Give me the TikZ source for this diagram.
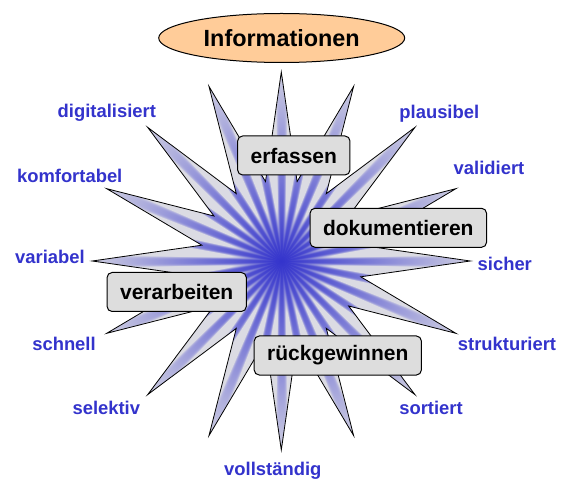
\documentclass[tikz,border=0pt]{standalone}
\usepackage{fontspec}
\setmainfont{Liberation Sans}
\usetikzlibrary{shapes.geometric}
\definecolor{lblue}{RGB}{51,51,204}
\definecolor{boxgray}{RGB}{221,221,221}
\definecolor{peach}{RGB}{255,204,153}
\pgfdeclarefunctionalshading{starshade}{\pgfpointorigin}{\pgfpoint{100bp}{100bp}}{}{
  50 sub exch 50 sub
  2 copy atan
  32 mul cos
  1 exch sub 2 div dup mul
  3 1 roll
  dup mul exch dup mul add sqrt 25 div
  dup 3 1 roll
  dup mul 14 mul mul 1 exch sub
  dup 0 lt {pop 0} if
  dup 1 gt {pop 1} if
  exch 0.92 mul 1 exch sub
  dup 0 lt {pop 0} if
  mul
  dup -0.66 mul 0.86 add exch dup -0.66 mul 0.86 add exch -0.09 mul 0.89 add
}
\begin{document}
\begin{tikzpicture}[x=1pt,y=-1pt,
  wordbox/.style={draw=black, line width=1pt, fill=boxgray, rounded corners=5pt,
    minimum height=39pt, inner xsep=13pt, font=\fontsize{21}{25}\selectfont\bfseries},
  lbl/.style={anchor=base, text=lblue, inner sep=0pt, font=\fontsize{18.4}{22}\selectfont\bfseries},
  titleell/.style={ellipse, draw=black, line width=1pt, fill=peach, minimum width=246pt,
    minimum height=49pt, inner sep=0pt, font=\fontsize{23.4}{28}\selectfont\bfseries}]
\useasboundingbox (0,0) rectangle (573,494);
\fill[white] (0,0) rectangle (573,494);
\coordinate (c) at (281.3,261);
\shadedraw[shading=starshade, draw=black, line width=0.8pt, line join=miter, shift={(c)}]
  (90:189) \foreach \k in {0,...,15}{ -- ({90+22.5*\k}:189) -- ({101.25+22.5*\k}:81)} -- cycle;
\node[titleell] (info) at (281.7,38) {Informationen};
\node[wordbox] (erf) at (293.8,155.5) {erfassen};
\node[wordbox] (dok) at (398.3,227.8) {dokumentieren};
\node[wordbox] (ver) at (176.7,292) {verarbeiten};
\node[wordbox] (rueck) at (337.8,355.5) {rückgewinnen};
\node[lbl] (l1) at (106.8,118) {digitalisiert};
\node[lbl] (l2) at (439.3,118.5) {plausibel};
\node[lbl] (l3) at (69.7,182.7) {komfortabel};
\node[lbl] (l4) at (489,175) {validiert};
\node[lbl] (l5) at (50,263.3) {variabel};
\node[lbl] (l6) at (504.8,271) {sicher};
\node[lbl] (l7) at (64,350.7) {schnell};
\node[lbl] (l8) at (507,350.7) {strukturiert};
\node[lbl] (l9) at (106.3,414.3) {selektiv};
\node[lbl] (l10) at (431,414.3) {sortiert};
\node[lbl] (l11) at (272.8,475) {vollständig};
\end{tikzpicture}
\end{document}
